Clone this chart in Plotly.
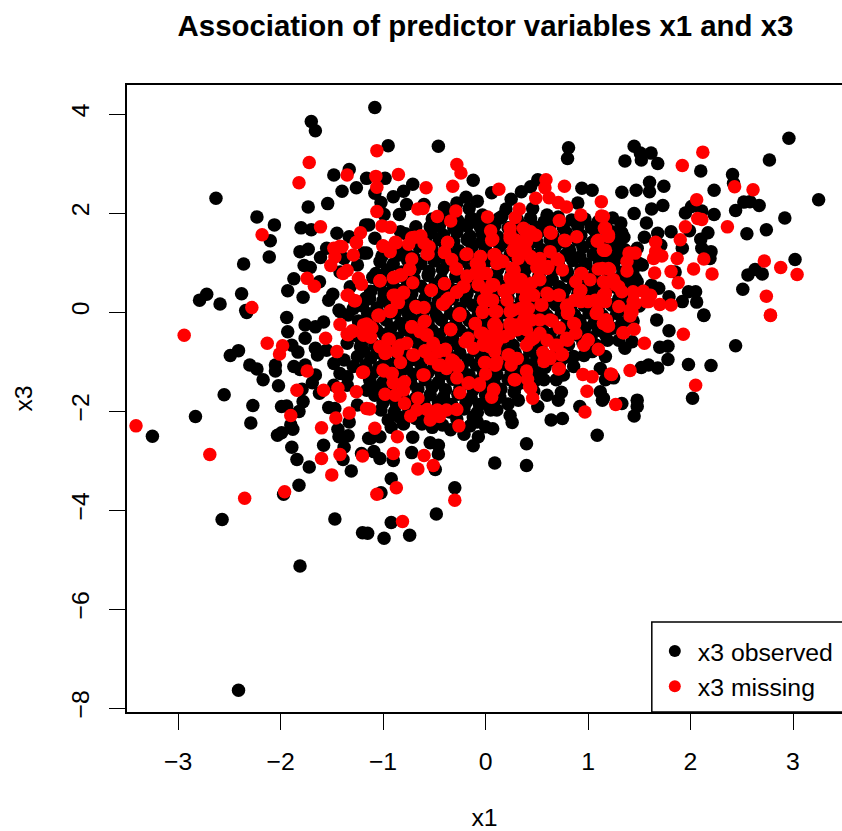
import plotly.graph_objects as go

observed_pairs = [
(-1.70,3.85),(-1.66,3.66),(-1.33,2.88),(-1.48,2.77),(-2.63,2.30),(-1.40,2.44),(-1.26,2.51),(-1.54,2.19),(-1.73,2.12),
(-2.23,1.92),(-2.06,1.76),(-2.10,1.44),(-2.11,1.11),(-2.36,0.97),(-1.80,1.70),(-1.70,1.66),(-1.45,1.59),(-1.33,1.52),
(-1.81,1.22),(-1.73,1.27),(-1.55,1.29),(-1.61,1.10),(-1.77,0.94),(-1.71,0.90),(-1.87,0.67),(-1.62,0.61),(-1.93,0.43),
(-1.78,0.30),(-1.49,0.36),(-1.53,0.24),(-2.38,0.37),(-2.72,0.36),(-2.79,0.24),(-2.59,0.16),(-2.34,0.03),(-1.94,-0.11),
(-1.43,0.04),(-1.32,0.51),(-1.17,0.28),(-1.29,0.07),(-1.38,1.08),(-1.25,0.95),(-1.42,0.81),(-1.17,1.76),(-1.19,1.19),(-1.16,2.70),
(-1.08,4.13),(-0.95,3.36),(-0.46,3.35),(0.81,3.32),(0.80,3.10),(-0.98,2.70),(-0.12,2.66),(-0.71,2.58),(-0.80,2.44),(-0.90,2.33),
(-1.08,2.40),(-1.02,2.21),(-0.77,2.17),(-0.84,1.97),(-0.99,1.97),(-0.60,2.17),(-0.40,2.11),(-0.19,2.32),(-0.08,2.24),(-0.16,2.09),
(-0.28,2.20),(0.06,2.41),(0.25,2.28),(0.20,2.08),(0.35,2.43),(0.44,2.53),(0.51,2.67),(0.94,2.50),(1.04,2.46),(0.90,2.20),
(0.46,2.09),(0.60,1.96),(0.13,1.89),(-0.03,1.96),(-0.10,1.82),(-0.22,1.76),(-0.68,1.72),(-0.54,1.72),(-1.14,1.76),(-1.08,1.49),
(-0.83,1.62),(-1.01,1.13),(-0.81,1.20),(-1.16,1.19),(-1.07,0.78),
(2.96,3.51),(2.77,3.07),(1.45,3.35),(1.51,3.21),(1.615,3.21),(1.36,3.05),(1.52,3.07),(1.68,3.00),(2.10,2.85),(2.41,2.78),
(2.42,2.60),(1.60,2.62),(1.33,2.42),(1.47,2.46),(1.60,2.43),(1.74,2.54),(2.23,2.46),(3.25,2.27),(2.52,2.22),(2.58,2.23),
(2.67,2.15),(2.44,2.05),(2.92,1.90),(1.45,1.99),(1.62,2.08),(1.73,2.15),(1.95,2.00),(2.01,2.13),(2.11,2.04),(2.23,1.97),
(1.32,1.80),(1.57,1.80),(2.74,1.66),(2.55,1.58),(1.81,1.62),(1.68,1.59),(1.55,1.51),(1.35,1.51),(1.99,1.64),(2.17,1.60),
(2.10,1.47),(2.11,1.29),(2.20,1.22),(2.19,1.08),(1.92,1.29),(1.48,1.29),(1.71,1.35),(3.02,1.06),(2.56,0.75),(2.63,0.86),
(2.70,0.77),(2.51,0.46),(1.98,0.41),(2.05,0.41),(1.92,0.21),(2.06,0.20),(2.13,-0.06),(1.79,0.31),(1.53,0.95),(1.38,0.78),
(1.48,0.61),(1.69,0.48),(1.62,0.54),(1.85,0.81),(1.235,1.62),(1.27,1.29),(1.28,1.08),(1.235,0.68),(1.30,0.55),(1.33,0.27),
(-3.25,-2.51),(-2.83,-2.11),(-2.55,-1.67),(-2.57,-4.19),(-2.29,-2.24),(-2.27,-1.89),(-2.41,-0.78),(-2.49,-0.88),(-2.30,-1.07),
(-2.23,-1.15),(-2.17,-1.37),(-2.05,-1.07),(-2.05,-1.19),(-2.02,-1.49),(-1.93,-0.40),(-1.76,-0.26),(-1.76,-0.53),(-1.66,-0.30),
(-1.58,-0.20),(-1.89,-0.67),(-1.83,-0.81),(-1.66,-0.73),(-1.64,-0.87),(-1.55,-0.77),(-1.87,-1.10),(-1.76,-1.07),(-1.81,-1.16),
(-1.66,-1.27),(-1.69,-1.43),(-1.79,-1.56),(-1.78,-1.81),(-1.82,-2.01),(-1.94,-1.90),(-1.99,-1.91),(-1.62,-1.64),(-1.90,-2.28),
(-1.88,-2.37),(-1.99,-2.44),(-2.03,-2.49),(-1.89,-2.73),(-1.84,-2.98),(-1.72,-3.13),(-1.82,-3.50),(-1.97,-3.68),(-1.47,-4.18),
(-1.20,-4.46),(-1.58,-2.69),(-1.44,-2.37),(-1.43,-2.52),(-1.34,-2.50),(-1.38,-2.73),(-1.39,-2.98),(-1.31,-3.21),(-1.21,-2.86),
(-1.14,-2.55),(-1.53,-1.93),(-1.47,-1.95),(-1.33,-2.22),(-1.25,-1.88),(-1.16,-1.58),(-1.48,-1.04),(-1.38,-0.97),(-1.42,-1.24),
(-1.35,-1.31),(-1.29,-1.10),(-1.48,-1.48),(-1.35,-1.48),(-1.22,-0.70),(-1.35,-0.63),(-1.25,-0.90),(-1.42,0.01),(-1.34,-0.06),(-2.33,-0.01),
(1.09,-2.49),(0.40,-2.66),(0.40,-3.10),(0.09,-3.05),(-0.12,-2.70),(-0.07,-2.52),(0.07,-2.36),(-0.21,-2.47),(-0.30,-3.55),(-0.48,-4.08),
(-0.92,-3.37),(-1.02,-3.65),(-0.92,-4.25),(-0.99,-4.57),(-0.74,-4.51),(-1.15,-4.47),(-0.49,-3.18),(-0.46,-2.87),(-0.46,-2.69),(-0.54,-2.64),
(-0.72,-2.84),(-0.71,-2.53),(-0.90,-3.00),(-1.03,-2.96),(-1.09,-2.82),(-1.03,-2.52),(-1.12,-2.55),(-0.92,-2.33),(-0.62,-2.26),(-0.42,-2.28),
(-0.34,-2.38),(-0.08,-2.22),(0.0,-2.32),(0.24,-2.09),(0.26,-2.23),(0.11,-1.98),(0.03,-1.88),(0.32,-1.78),(0.51,-1.91),(0.64,-2.18),
(0.75,-2.15),(0.60,-1.68),(0.71,-1.78),(0.74,-1.62),(0.92,-1.91),(1.12,-1.61),(1.14,-1.78),(1.12,-1.14),(0.76,-1.27),(0.69,-1.37),
(0.57,-1.37),(0.86,-0.90),(0.96,-0.88),
(2.13,-0.07),(1.79,-0.38),(2.44,-0.68),(1.70,-0.71),(1.78,-0.69),(1.78,-0.96),(1.98,-1.06),(2.20,-1.08),(1.52,-1.12),(1.59,-1.07),
(1.68,-1.13),(2.02,-1.74),(1.48,-1.78),(1.48,-1.91),(1.45,-2.10),(1.33,-1.85),(1.25,-1.33),(1.15,-1.74),(1.67,-0.16),(1.36,-0.73),
(1.43,-0.60),(1.30,-0.57),(1.19,-0.57),(1.17,-0.90),(1.17,-1.37),(-2.41,-7.64),(-1.81,-5.13),
# dense centre of the cloud
(-0.52,1.88),(-0.38,1.92),(-0.27,1.85),(-0.14,1.90),(0.02,1.84),(0.16,1.93),(0.31,1.87),(0.44,1.90),(0.57,1.82),(0.71,1.92),(0.84,1.86),(0.97,1.88),(1.10,1.83),(1.24,1.90),
(-0.78,1.58),(-0.66,1.52),(-0.53,1.60),(-0.41,1.55),(-0.28,1.61),(-0.15,1.53),(-0.03,1.58),(0.12,1.52),(0.26,1.60),(0.38,1.54),(0.52,1.61),(0.66,1.53),(0.79,1.60),(0.93,1.55),(1.07,1.62),(1.20,1.55),(1.33,1.60),
(-0.92,1.30),(-0.78,1.25),(-0.65,1.33),(-0.52,1.26),(-0.39,1.31),(-0.26,1.24),(-0.13,1.32),(0.0,1.27),(0.14,1.33),(0.28,1.25),(0.41,1.30),(0.55,1.26),(0.68,1.32),(0.82,1.25),(0.95,1.31),(1.09,1.27),(1.22,1.33),(1.36,1.26),
(-1.03,1.02),(-0.90,0.97),(-0.76,1.04),(-0.63,0.98),(-0.50,1.03),(-0.37,0.96),(-0.23,1.02),(-0.10,0.97),(0.04,1.04),(0.17,0.98),(0.31,1.02),(0.44,0.96),(0.58,1.03),(0.71,0.98),(0.85,1.04),(0.98,0.97),(1.11,1.02),(1.25,0.96),(1.39,1.03),(1.50,0.98),
(-1.10,0.70),(-0.97,0.66),(-0.83,0.73),(-0.70,0.68),(-0.56,0.74),(-0.43,0.66),(-0.29,0.72),(-0.16,0.67),(-0.02,0.73),(0.11,0.68),(0.25,0.74),(0.38,0.67),(0.52,0.72),(0.65,0.66),(0.79,0.73),(0.92,0.68),(1.06,0.74),(1.19,0.67),(1.33,0.72),(1.46,0.68),
(-1.12,0.42),(-0.99,0.38),(-0.85,0.44),(-0.72,0.37),(-0.58,0.43),(-0.45,0.38),(-0.31,0.44),(-0.18,0.37),(-0.04,0.43),(0.09,0.38),(0.23,0.44),(0.36,0.37),(0.50,0.42),(0.63,0.38),(0.77,0.44),(0.90,0.37),(1.04,0.43),(1.17,0.38),(1.31,0.42),(1.44,0.37),(1.55,0.42),
(-1.20,0.12),(-1.06,0.08),(-0.93,0.14),(-0.79,0.07),(-0.66,0.13),(-0.52,0.08),(-0.39,0.14),(-0.25,0.07),(-0.12,0.13),(0.02,0.08),(0.15,0.14),(0.29,0.07),(0.42,0.12),(0.56,0.08),(0.69,0.14),(0.83,0.07),(0.96,0.13),(1.10,0.08),(1.23,0.14),(1.37,0.07),(1.50,0.12),
(-1.24,-0.18),(-1.10,-0.22),(-0.97,-0.16),(-0.83,-0.23),(-0.70,-0.17),(-0.56,-0.22),(-0.43,-0.16),(-0.29,-0.23),(-0.16,-0.17),(-0.02,-0.22),(0.11,-0.16),(0.25,-0.23),(0.38,-0.18),(0.52,-0.22),(0.65,-0.16),(0.79,-0.23),(0.92,-0.17),(1.06,-0.22),(1.19,-0.16),(1.33,-0.23),(1.44,-0.18),
(-1.26,-0.48),(-1.13,-0.52),(-0.99,-0.46),(-0.86,-0.53),(-0.72,-0.47),(-0.59,-0.52),(-0.45,-0.46),(-0.32,-0.53),(-0.18,-0.47),(-0.05,-0.52),(0.09,-0.46),(0.22,-0.53),(0.36,-0.48),(0.49,-0.52),(0.63,-0.46),(0.76,-0.53),(0.90,-0.47),(1.03,-0.52),(1.17,-0.46),
(-1.19,-0.78),(-1.06,-0.82),(-0.92,-0.76),(-0.79,-0.83),(-0.65,-0.77),(-0.52,-0.82),(-0.38,-0.76),(-0.25,-0.83),(-0.11,-0.77),(0.02,-0.82),(0.16,-0.76),(0.29,-0.83),(0.43,-0.78),(0.56,-0.82),(0.70,-0.76),(1.04,-0.80),
(-1.17,-1.08),(-1.04,-1.12),(-0.90,-1.06),(-0.77,-1.13),(-0.63,-1.07),(-0.50,-1.12),(-0.36,-1.06),(-0.23,-1.13),(-0.09,-1.07),(0.04,-1.12),(0.18,-1.06),(0.31,-1.13),(0.45,-1.08),(0.58,-1.12),(0.72,-1.06),(0.86,-1.10),
(-1.13,-1.38),(-1.00,-1.42),(-0.86,-1.36),(-0.73,-1.43),(-0.59,-1.37),(-0.46,-1.42),(-0.32,-1.36),(-0.19,-1.43),(-0.05,-1.37),(0.08,-1.42),(0.22,-1.36),(0.35,-1.43),(0.49,-1.38),
(-1.08,-1.68),(-0.95,-1.72),(-0.81,-1.66),(-0.68,-1.73),(-0.54,-1.67),(-0.41,-1.72),(-0.27,-1.66),(-0.14,-1.73),(0.0,-1.67),(0.14,-1.72),(0.28,-1.62),(0.47,-1.60),
(-1.02,-1.98),(-0.89,-2.02),(-0.75,-1.96),(-0.62,-2.03),(-0.48,-1.97),(-0.35,-2.02),(-0.21,-1.96),(-0.08,-2.03),(0.05,-1.98),
(-0.95,-2.18),(-0.80,-2.26),(-0.52,-2.33),(-0.15,-2.30),
# staggered second layer of the centre
(-0.45,1.74),(-0.31,1.70),(-0.18,1.74),(-0.05,1.71),(0.09,1.75),(0.22,1.70),(0.36,1.74),(0.49,1.71),(0.63,1.75),(0.76,1.70),(0.90,1.74),(1.03,1.71),(1.17,1.75),
(-0.72,1.45),(-0.58,1.41),(-0.45,1.46),(-0.31,1.42),(-0.18,1.46),(-0.04,1.41),(0.09,1.45),(0.23,1.41),(0.36,1.46),(0.50,1.42),(0.63,1.46),(0.77,1.41),(0.90,1.45),(1.04,1.41),(1.17,1.46),(1.31,1.42),
(-0.84,1.15),(-0.70,1.11),(-0.57,1.16),(-0.43,1.12),(-0.30,1.16),(-0.16,1.11),(-0.03,1.15),(0.11,1.11),(0.24,1.16),(0.38,1.12),(0.51,1.16),(0.65,1.11),(0.78,1.15),(0.92,1.11),(1.05,1.16),(1.19,1.12),(1.32,1.16),(1.44,1.12),
(-0.96,0.85),(-0.82,0.81),(-0.69,0.86),(-0.55,0.82),(-0.42,0.86),(-0.28,0.81),(-0.15,0.85),(-0.01,0.81),(0.12,0.86),(0.26,0.82),(0.39,0.86),(0.53,0.81),(0.66,0.85),(0.80,0.81),(0.93,0.86),(1.07,0.82),(1.20,0.86),(1.34,0.81),(1.44,0.85),
(-1.03,0.55),(-0.90,0.51),(-0.76,0.56),(-0.63,0.52),(-0.49,0.56),(-0.36,0.51),(-0.22,0.55),(-0.09,0.51),(0.05,0.56),(0.18,0.52),(0.32,0.56),(0.45,0.51),(0.59,0.55),(0.72,0.51),(0.86,0.56),(0.99,0.52),(1.13,0.56),(1.26,0.51),(1.40,0.55),
(-1.13,0.27),(-1.00,0.23),(-0.86,0.28),(-0.73,0.24),(-0.59,0.28),(-0.46,0.23),(-0.32,0.27),(-0.19,0.23),(-0.05,0.28),(0.08,0.24),(0.22,0.28),(0.35,0.23),(0.49,0.27),(0.62,0.23),(0.76,0.28),(0.89,0.24),(1.03,0.28),(1.16,0.23),(1.30,0.27),(1.43,0.23),
(-1.15,-0.03),(-1.02,-0.07),(-0.88,-0.02),(-0.75,-0.06),(-0.61,-0.02),(-0.48,-0.07),(-0.34,-0.03),(-0.21,-0.07),(-0.07,-0.02),(0.06,-0.06),(0.20,-0.02),(0.33,-0.07),(0.47,-0.03),(0.60,-0.07),(0.74,-0.02),(0.87,-0.06),(1.01,-0.02),(1.14,-0.07),(1.28,-0.03),(1.40,-0.07),
(-1.19,-0.33),(-1.06,-0.37),(-0.92,-0.32),(-0.79,-0.36),(-0.65,-0.32),(-0.52,-0.37),(-0.38,-0.33),(-0.25,-0.37),(-0.11,-0.32),(0.02,-0.36),(0.16,-0.32),(0.29,-0.37),(0.43,-0.33),(0.56,-0.37),(0.70,-0.32),(0.83,-0.36),(0.97,-0.32),(1.10,-0.37),(1.24,-0.33),
(-1.21,-0.63),(-1.08,-0.67),(-0.94,-0.62),(-0.81,-0.66),(-0.67,-0.62),(-0.54,-0.67),(-0.40,-0.63),(-0.27,-0.67),(-0.13,-0.62),(0.00,-0.66),(0.14,-0.62),(0.27,-0.67),(0.41,-0.63),(0.54,-0.67),(0.68,-0.62),(0.81,-0.66),(0.95,-0.62),(1.08,-0.67),
(-1.12,-0.93),(-0.98,-0.97),(-0.85,-0.92),(-0.71,-0.96),(-0.58,-0.92),(-0.44,-0.97),(-0.31,-0.93),(-0.17,-0.97),(-0.04,-0.92),(0.10,-0.96),(0.23,-0.92),(0.37,-0.97),(0.50,-0.93),(0.64,-0.97),(0.77,-0.92),
(-1.10,-1.23),(-0.97,-1.27),(-0.83,-1.22),(-0.70,-1.26),(-0.56,-1.22),(-0.43,-1.27),(-0.29,-1.23),(-0.16,-1.27),(-0.02,-1.22),(0.11,-1.26),(0.25,-1.22),(0.38,-1.27),(0.52,-1.23),
(-1.06,-1.53),(-0.93,-1.57),(-0.79,-1.52),(-0.66,-1.56),(-0.52,-1.52),(-0.39,-1.57),(-0.25,-1.53),(-0.12,-1.57),(0.02,-1.52),(0.15,-1.56),(0.29,-1.52),(0.42,-1.47),
(-1.00,-1.83),(-0.87,-1.87),(-0.73,-1.82),(-0.60,-1.86),(-0.46,-1.82),(-0.33,-1.87),(-0.19,-1.83),(-0.06,-1.87),(0.08,-1.82),(0.22,-1.86),
(-0.84,-2.12),(-0.68,-2.15),(-0.28,-2.16),(-0.12,-2.12),
]

missing_pairs = [
(-1.72,3.02),(-1.82,2.61),(-1.35,2.77),(-1.61,1.72),(-2.18,1.56),(-1.22,1.60),(-1.26,1.41),(-1.42,1.33),(-1.48,1.29),(-1.47,1.11),
(-1.29,1.15),(-1.51,0.94),(-1.35,0.84),(-1.39,0.78),(-1.24,0.68),(-1.21,0.56),(-1.74,0.68),(-1.67,0.52),(-1.35,0.34),(-1.28,0.23),(-2.28,0.09),
(-1.06,3.26),(-1.07,2.74),(-1.06,2.52),(-0.85,2.78),(-0.58,2.51),(-0.32,2.54),(-0.28,2.98),(-0.24,2.81),(0.13,2.48),(0.59,2.67),(0.58,2.51),
(0.77,2.54),(0.49,2.30),(0.62,2.31),(0.71,2.21),(0.79,2.12),(1.13,2.23),(0.93,1.96),(1.13,1.94),(0.33,2.08),(0.72,1.85),(0.29,1.91),(0.02,1.92),
(-0.29,2.04),(-0.34,1.84),(-0.47,1.93),(-0.61,2.09),(-0.66,2.08),(-1.06,2.03),(-1.01,1.74),(-0.93,1.71),(0.05,1.64),(0.07,1.47),(0.24,1.69),
(0.24,1.49),(0.37,1.69),(0.44,1.62),(0.49,1.55),(0.40,1.42),(0.63,1.61),(0.77,1.45),(0.89,1.52),(1.09,1.43),(1.16,1.69),(1.15,1.25),(0.27,1.25),
(0.37,1.25),(-0.88,1.41),(-1.00,1.34),(-0.93,1.22),(-0.75,1.37),(-0.72,1.50),(-0.64,1.52),(-0.60,1.39),(-0.55,1.32),(-0.57,1.17),(-0.37,1.41),
(-0.40,1.21),(-0.33,1.06),(-0.28,0.87),(-0.19,1.16),(-0.72,1.07),(-0.74,0.87),(-0.83,0.75),(-0.90,0.69),(-1.03,0.63),(-0.71,0.59),(-0.05,1.12),
(0.09,1.16),(0.16,1.03),(-0.06,0.95),(-0.02,0.78),(-0.18,0.73),(0.44,1.12),(0.53,1.08),(0.63,1.22),(0.70,1.07),(0.60,0.88),(0.50,0.90),(0.75,0.85),
(0.28,0.85),(0.24,0.68),(0.34,0.65),(0.52,0.67),(0.42,0.48),(0.93,0.78),(0.88,0.61),(1.10,0.87),(1.02,0.65),(1.15,0.61),(0.93,0.44),(-0.40,0.57),
(-0.53,0.44),(-0.21,0.51),(-0.28,0.40),(-0.38,0.24),(-0.42,0.16),(0.06,0.55),(-0.07,0.55),(0.18,0.42),(0.24,0.48),(0.03,0.24),(0.21,0.24),(0.39,0.28),
(0.54,0.14),(0.71,0.34),(0.62,0.34),(0.80,0.14),(0.93,0.21),(1.07,0.24),(1.15,0.34),(-0.90,0.34),(-0.80,0.40),(-0.86,0.20),(-0.68,0.11),(-0.60,0.09),
(-0.92,0.03),(-1.04,-0.06),(-0.25,-0.03),(-0.03,0.02),(0.11,0.01),(0.24,0.01),(0.40,0.07),(0.80,-0.03),(1.09,0.01),
(2.12,3.23),(1.92,2.96),(2.06,2.27),(2.43,2.53),(2.61,2.47),(2.07,1.89),(2.11,1.87),(2.36,1.72),(1.95,1.72),(1.90,1.46),(1.87,1.08),(2.13,1.07),
(2.03,0.87),(2.21,0.77),(2.72,1.03),(2.88,0.90),(3.04,0.76),(2.74,0.32),(2.78,-0.06),(1.81,0.82),(1.88,0.59),(1.65,0.79),(1.66,1.41),(1.64,1.08),
(1.72,1.13),(1.66,1.22),(1.46,1.19),(1.40,1.19),(1.38,1.02),(1.38,0.83),(1.81,0.14),(1.70,0.15),(1.61,0.34),(1.54,0.42),(1.45,0.38),(1.46,0.17),
(1.59,0.21),(1.30,0.11),(1.41,0.04),(1.17,0.21),(1.22,0.61),(1.27,0.55),(1.20,0.88),(1.14,0.88),(1.16,1.25),(1.15,1.93),(1.17,1.69),(1.20,1.52),
(-2.94,-0.47),(-3.41,-2.30),(-2.69,-2.88),(-2.35,-3.76),(-1.96,-3.63),(-2.13,-0.63),(-1.98,-0.68),(-2.01,-0.85),(-1.56,-0.53),(-1.42,-0.25),
(-1.30,-0.38),(-1.35,-0.45),(-1.19,-0.26),(-1.19,-0.47),(-1.45,-0.80),(-1.19,-1.21),(-1.74,-1.19),(-1.84,-1.58),(-1.58,-1.58),(-1.44,-1.54),
(-1.42,-1.70),(-1.26,-1.61),(-1.90,-2.09),(-1.33,-2.04),(-1.46,-2.14),(-1.16,-1.95),(-1.60,-2.34),(-1.42,-2.88),(-1.60,-2.96),(-1.20,-2.91),(-1.50,-3.29),
(-1.05,-0.07),(-0.93,0.01),(-1.12,-0.30),(-0.25,-0.07),(-0.03,-0.01),(0.80,-0.01),(1.08,-0.03),(1.15,-0.23),(0.87,-0.24),(0.72,-0.32),(0.88,-0.43),
(0.80,-0.57),(1.0,-0.57),(0.96,-0.67),(1.10,-0.75),(0.75,-0.86),(0.56,-0.82),(0.57,-1.00),(0.63,-0.94),(0.70,-0.67),(0.60,-0.57),(0.71,-1.15),
(0.95,-1.26),(1.04,-1.31),(0.99,-1.60),(0.97,-2.02),(0.40,-1.19),(0.41,-1.36),(0.44,-1.54),(0.46,-1.74),(0.28,-1.37),(0.08,-1.58),(0.06,-1.72),
(0.0,-1.25),(-0.01,-1.02),(-0.06,-1.48),(-0.16,-1.43),(-0.25,-1.63),(-0.28,-1.33),(-0.27,-1.09),(-0.33,-0.97),(-0.38,-1.14),(-0.46,-1.07),
(-0.60,-1.27),(-0.83,-1.02),(-0.99,-1.19),(-0.91,-1.24),(-0.90,-1.43),(-0.79,-1.41),(-0.80,-1.58),(-0.98,-1.66),(-0.88,-1.68),(-0.79,-1.85),
(-0.66,-1.74),(-0.73,-2.10),(-0.67,-1.98),(-0.57,-1.97),(-0.54,-2.18),(-0.45,-2.11),(-0.47,-1.98),(-0.38,-1.98),(-0.28,-1.97),(-0.26,-2.30),
(-1.13,-1.96),(-1.08,-2.35),(-0.86,-2.52),(-0.90,-2.86),(-0.60,-2.90),(-0.66,-3.17),(-0.51,-3.10),(-0.87,-3.55),(-1.06,-3.68),(-0.30,-3.80),(-0.81,-4.23),
(-0.60,-0.20),(-0.72,-0.30),(-0.58,-0.47),(-0.34,-0.35),(-0.10,-0.24),(-0.18,-0.57),(-0.03,-0.43),(0.08,-0.26),(0.24,-0.26),(0.37,-0.16),(0.53,-0.16),
(0.63,-0.16),(0.18,-0.50),(0.31,-0.36),(0.44,-0.57),(0.53,-0.43),(0.08,-0.70),(-0.12,-0.73),(-0.02,-0.63),(-0.94,-0.55),(-1.03,-0.70),(-0.98,-0.84),
(-0.83,-0.67),(-0.77,-0.63),(-0.86,-0.80),(-0.71,-0.87),(-0.59,-0.80),(-0.51,-0.63),(-0.46,-0.80),(-0.39,-0.75),(-0.54,-0.94),(0.10,-1.07),(0.23,-0.87),
(0.31,-0.94),(0.25,-1.07),
(2.78,-0.07),(1.93,-0.45),(1.55,-0.63),(1.45,-0.35),(1.35,-0.42),(1.41,-0.08),(1.43,0.0),(1.18,-0.16),(1.20,-0.28),(1.41,-1.18),(1.22,-1.25),(2.05,-1.48),(1.27,-1.87),
# centre, left crop
(-1.26,1.40),(-1.40,1.32),(-1.03,0.63),(-1.00,1.33),(-0.87,1.40),(-0.69,1.51),(-0.63,1.54),(-0.56,1.17),(-0.74,0.86),(-0.82,0.75),(-0.89,0.70),
(-0.37,1.40),(-0.40,1.20),(-0.29,0.88),(-0.18,1.17),(-0.40,0.57),(-0.53,0.44),(-0.80,0.38),(-0.88,0.34),(-0.85,0.19),(-0.93,0.01),(-1.04,-0.08),
(-1.34,0.34),(-1.27,0.23),(-0.67,0.09),(-0.36,0.28),(-0.41,0.16),(-0.28,0.41),(-0.22,0.51),(-0.18,0.71),(-0.10,0.78),(-0.05,1.12),(-0.09,0.98),(0.01,0.78),
(0.08,1.15),(0.11,0.98),(-0.07,0.55),(0.01,0.44),(0.07,0.53),(-0.02,0.24),(0.04,0.24),(-0.03,0.01),(0.09,0.01),(-0.26,-0.06),(-0.10,-0.23),(-0.59,-0.18),
(-0.72,-0.30),(-0.64,-0.40),(-0.57,-0.46),(-0.34,-0.36),(-1.16,-0.24),(-1.11,-0.33),(-1.18,-0.43),(-1.12,-0.51),(-1.30,-0.40),(-1.34,-0.46),(-0.95,-0.55),
(-1.03,-0.70),(-0.96,-0.80),(-0.85,-0.70),(-0.70,-0.87),(-0.59,-0.78),(-0.51,-0.67),(-0.46,-0.77),(-0.40,-0.77),(-0.53,-0.94),(-0.44,-1.07),(-0.31,-1.00),
(-0.27,-1.10),(-0.61,-1.27),(-1.00,-1.17),(-0.92,-1.24),(-0.90,-1.43),(-0.80,-1.44),(-1.20,-1.22),(-0.17,-0.53),(-0.20,-0.60),(-0.05,-0.43),(0.03,-0.50),
(0.09,-0.40),(0.04,-0.70),(0.11,-0.60),(-0.02,-0.67),(0.09,-0.23),(0.09,-0.80),(0.09,-1.07),(0.0,-1.02),(-0.17,-1.44),(-0.06,-1.45),(0.08,-1.56),
# centre, right crop
(0.06,1.45),(0.24,1.56),(0.30,1.45),(0.40,1.59),(0.47,1.56),(0.64,1.59),(0.78,1.44),(1.10,1.45),(1.17,1.25),(1.20,1.56),(0.27,1.24),(0.39,1.25),(0.09,1.15),(0.17,1.02),
(0.32,1.08),(0.45,1.08),(0.71,1.05),(0.26,0.88),(0.27,0.78),(0.52,0.88),(0.61,0.92),(0.35,0.65),(0.45,0.58),(0.53,0.65),(0.08,0.55),(0.19,0.44),(0.32,0.51),
(0.07,0.24),(0.40,0.38),(0.47,0.34),(0.60,0.38),(0.72,0.34),(0.27,0.04),(0.34,0.07),(0.42,0.07),(0.55,0.14),(0.79,0.11),(0.81,0.01),(0.94,0.78),(1.21,0.86),
(1.25,0.65),(1.30,0.51),(1.17,0.38),(1.33,0.41),(1.44,0.41),(1.57,0.21),(1.44,0.21),(0.92,0.41),(0.87,0.24),(1.00,0.21),(1.08,0.23),(1.17,-0.16),(1.19,-0.28),
(1.34,-0.42),(0.86,-0.23),(0.79,-0.53),(1.00,-0.56),(0.65,-0.18),(0.45,-0.16),(0.40,-0.36),(0.30,-0.26),(0.24,-0.23),(0.11,-0.30),(0.14,-0.50),(0.24,-0.43),
(0.47,-0.53),(0.40,-0.67),(0.68,-0.67),(0.74,-0.87),(0.63,-0.90),(0.09,-0.70),(0.11,-1.00),(0.22,-0.87),(0.30,-0.94),(0.72,-1.14),(0.29,-1.37),(0.43,-1.51),
(1.23,-1.26),
]

x1_observed = [p[0] for p in observed_pairs]
x3_observed = [p[1] for p in observed_pairs]
x1_missing = [p[0] for p in missing_pairs]
x3_missing = [p[1] for p in missing_pairs]

x_ticks = [-3, -2, -1, 0, 1, 2, 3]
y_ticks = [-8, -6, -4, -2, 0, 2, 4]

FONT = "Liberation Sans, Arial, sans-serif"

fig = go.Figure()
fig.add_trace(go.Scatter(x=x1_observed, y=x3_observed, mode="markers", name="x3 observed",
                         legendgroup="a", marker=dict(color="#000000", size=13.5, line=dict(width=0))))
fig.add_trace(go.Scatter(x=x1_missing, y=x3_missing, mode="markers", name="x3 missing",
                         legendgroup="b", marker=dict(color="#ff0000", size=13.5, line=dict(width=0))))

axis_common = dict(showgrid=False, zeroline=False, ticks="outside", ticklen=16, tickwidth=1.2, tickcolor="black",
                   showline=True, linecolor="black", linewidth=1.5, mirror=True, ticklabelstandoff=10,
                   tickfont=dict(family=FONT, size=24.8, color="black"))
fig.update_xaxes(range=[-3.498, 3.478], tickvals=x_ticks, ticktext=[str(v).replace("-", "\u2212") for v in x_ticks],
                 title=dict(text="x1", font=dict(family=FONT, size=24.8, color="black"), standoff=40), **axis_common)
fig.update_yaxes(range=[-8.08, 4.586], tickvals=y_ticks, ticktext=[str(v).replace("-", "\u2212") for v in y_ticks],
                 tickangle=-90,
                 title=dict(text="x3", font=dict(family=FONT, size=24.8, color="black"), standoff=28), **axis_common)

fig.update_layout(
    width=842, height=831, margin=dict(l=127, r=0, t=85, b=119, pad=0, autoexpand=False),
    paper_bgcolor="white", plot_bgcolor="white",
    title=dict(text="<b>Association of predictor variables x1 and x3</b>", x=485.5 / 842, xanchor="center",
               y=1 - 26 / 831, yanchor="middle", font=dict(family=FONT, size=29.4, color="black")),
    showlegend=True,
    legend=dict(x=0.734, xanchor="left", y=0.1335, yanchor="top", bgcolor="rgba(0,0,0,0)", borderwidth=0,
                font=dict(family=FONT, size=24.8, color="black"), tracegroupgap=0, itemsizing="constant", itemwidth=36),
    shapes=[dict(type="rect", xref="paper", yref="paper", x0=0.734, x1=1.01, y0=0, y1=0.1435,
                 line=dict(color="black", width=1.5), fillcolor="white", layer="below")],
)

fig.write_html("out.html", config={"displayModeBar": False},
               post_script="document.body.style.margin='0';document.body.style.overflow='hidden';")
